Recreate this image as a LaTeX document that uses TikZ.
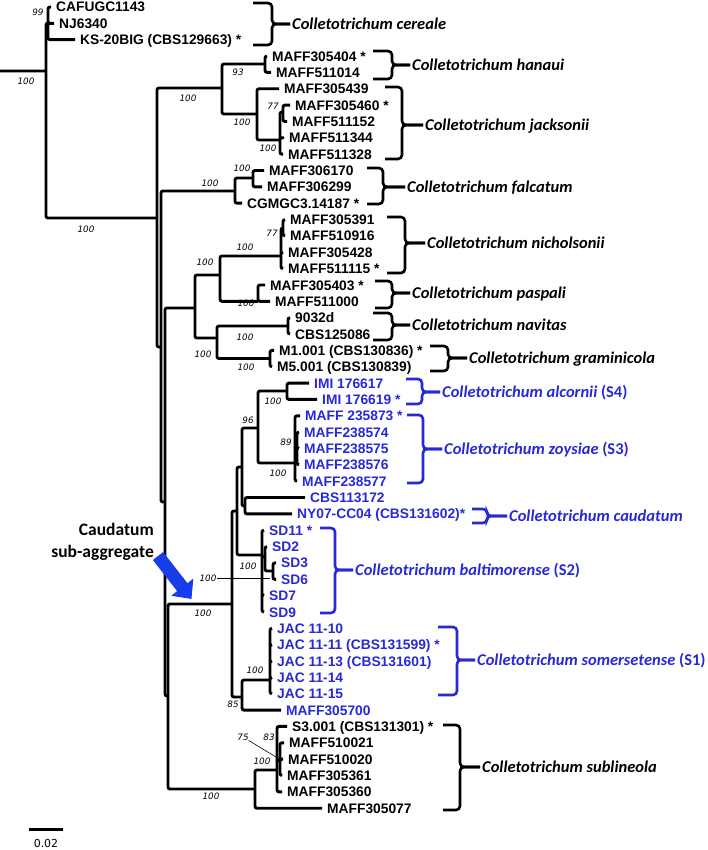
\documentclass[tikz,border=0pt]{standalone}
\usepackage{fontspec}
\usepackage{xcolor}
\usetikzlibrary{arrows.meta}
\newfontfamily\leaffont{Liberation Sans}
\newfontfamily\spfont{Carlito}
\newfontfamily\bsfont{DejaVu Sans}
\definecolor{cladeblue}{RGB}{40,40,215}
\definecolor{arrowblue}{RGB}{25,60,235}
% species brace: colour, stub x, spine x, top y, bottom y, middle y, label node
\newcommand{\spbrace}[7]{%
  \draw[#1,brace line] (#2,#4) -- (#3,#4) -- (#3,#6) -- (#7.west);
  \draw[#1,brace line] (#2,#5) -- (#3,#5) -- (#3,#6) -- (#7.west);}

\begin{document}
\begin{tikzpicture}[x=1pt,y=-1pt,
  branch/.style={line width=2.9pt,rounded corners=2pt},
  leaf/.style={anchor=west,inner xsep=5pt,inner ysep=0pt,text height=10pt,text depth=0pt,font=\leaffont\bfseries\fontsize{13.8}{15}\selectfont},
  bleaf/.style={leaf,text=cladeblue},
  species/.style={anchor=west,inner xsep=2pt,inner ysep=0pt,text height=10.5pt,text depth=0pt,font=\spfont\bfseries\itshape\fontsize{16.5}{18}\selectfont},
  boot/.style={inner sep=0pt,text height=6.5pt,text depth=0pt,font=\bsfont\itshape\fontsize{8.8}{10}\selectfont},
  brace line/.style={line width=2.6pt,rounded corners=4pt}]
\useasboundingbox (0,0) rectangle (708,850);

% internal nodes
\coordinate (base) at (0,71);
\coordinate (nR) at (46,71);
\coordinate (nCer) at (48,23);
\coordinate (nN1) at (157,218);
\coordinate (nHJ) at (222,88);
\coordinate (nHan) at (265,64);
\coordinate (nJac) at (257,114);
\coordinate (nJacB) at (280,140);
\coordinate (n77a) at (283,112);
\coordinate (nN2) at (161,347);
\coordinate (nFal) at (235,191);
\coordinate (nFalA) at (253,178);
\coordinate (nN3) at (165,502);
\coordinate (nNic0) at (195,308);
\coordinate (nNP) at (220,275);
\coordinate (nNic) at (281,256);
\coordinate (n77b) at (283,228);
\coordinate (nPas) at (258,301.3);
\coordinate (nNG) at (217,338);
\coordinate (nNav) at (288,326);
\coordinate (nGra) at (270,358.5);
\coordinate (nN4) at (168,696);
\coordinate (nCau) at (232,604);
\coordinate (nA) at (237,511);
\coordinate (nA1) at (242,467);
\coordinate (nAZ) at (258,428);
\coordinate (nAlc) at (287,391);
\coordinate (nZoy) at (295,463);
\coordinate (n89) at (297,448);
\coordinate (nCN) at (245,506);
\coordinate (nSD) at (262,555);
\coordinate (nSDb) at (265,557);
\coordinate (nSD36) at (273,571);
\coordinate (nB) at (242,697);
\coordinate (nJAC) at (270,680);
\coordinate (nSub) at (255,789);
\coordinate (nSubA) at (277,770);
\coordinate (nSubB) at (280,760);

% leaves
\node[leaf] (l0) at (51,7.0) {CAFUGC1143};
\node[leaf] (l1) at (54,23.4) {NJ6340};
\node[leaf] (l2) at (75,39.7) {KS-20BIG (CBS129663) *};
\node[leaf] (l3) at (267,56.1) {MAFF305404 *};
\node[leaf] (l4) at (271,72.4) {MAFF511014};
\node[leaf] (l5) at (279,88.8) {MAFF305439};
\node[leaf] (l6) at (290,105.1) {MAFF305460 *};
\node[leaf] (l7) at (287,121.5) {MAFF511152};
\node[leaf] (l8) at (284,137.8) {MAFF511344};
\node[leaf] (l9) at (283,154.2) {MAFF511328};
\node[leaf] (l10) at (264,170.5) {MAFF306170};
\node[leaf] (l11) at (262,186.9) {MAFF306299};
\node[leaf] (l12) at (242,203.2) {CGMGC3.14187 *};
\node[leaf] (l13) at (285,219.6) {MAFF305391};
\node[leaf] (l14) at (285,235.9) {MAFF510916};
\node[leaf] (l15) at (283,252.3) {MAFF305428};
\node[leaf] (l16) at (283,268.6) {MAFF511115 *};
\node[leaf] (l17) at (265,285.0) {MAFF305403 *};
\node[leaf] (l18) at (270,301.3) {MAFF511000};
\node[leaf] (l19) at (290,317.7) {9032d};
\node[leaf] (l20) at (290,334.0) {CBS125086};
\node[leaf] (l21) at (274,350.4) {M1.001 (CBS130836) *};
\node[leaf] (l22) at (272,366.7) {M5.001 (CBS130839)};
\node[bleaf] (l23) at (309,383.1) {IMI 176617};
\node[bleaf] (l24) at (317,399.4) {IMI 176619 *};
\node[bleaf] (l25) at (300,415.8) {MAFF 235873 *};
\node[bleaf] (l26) at (299,432.1) {MAFF238574};
\node[bleaf] (l27) at (299,448.5) {MAFF238575};
\node[bleaf] (l28) at (299,464.8) {MAFF238576};
\node[bleaf] (l29) at (297,481.2) {MAFF238577};
\node[bleaf] (l30) at (305,497.5) {CBS113172};
\node[bleaf] (l31) at (292,513.9) {NY07-CC04 (CBS131602)*};
\node[bleaf] (l32) at (264,530.2) {SD11 *};
\node[bleaf] (l33) at (267,546.6) {SD2};
\node[bleaf] (l34) at (276,562.9) {SD3};
\node[bleaf] (l35) at (276,579.3) {SD6};
\node[bleaf] (l36) at (264,595.6) {SD7};
\node[bleaf] (l37) at (264,612.0) {SD9};
\node[bleaf] (l38) at (272,628.3) {JAC 11-10};
\node[bleaf] (l39) at (272,644.7) {JAC 11-11 (CBS131599) *};
\node[bleaf] (l40) at (272,661.0) {JAC 11-13 (CBS131601)};
\node[bleaf] (l41) at (272,677.4) {JAC 11-14};
\node[bleaf] (l42) at (272,693.7) {JAC 11-15};
\node[bleaf] (l43) at (281,710.1) {MAFF305700};
\node[leaf] (l44) at (287,726.4) {S3.001 (CBS131301) *};
\node[leaf] (l45) at (284,742.8) {MAFF510021};
\node[leaf] (l46) at (283,759.1) {MAFF510020};
\node[leaf] (l47) at (282,775.5) {MAFF305361};
\node[leaf] (l48) at (282,791.8) {MAFF305360};
\node[leaf] (l49) at (322,808.2) {MAFF305077};

% branches
\draw[branch] (base) -- (nR) (nR) |- (nCer) (nR) |- (nN1);
\draw[branch] (nCer) |- (l0.west) (nCer) |- (l1.west) (nCer) |- (l2.west);
\draw[branch] (nN1) |- (nHJ) (nN1) |- (nN2);
\draw[branch] (nHJ) |- (nHan) (nHJ) |- (nJac);
\draw[branch] (nHan) |- (l3.west) (nHan) |- (l4.west);
\draw[branch] (nJac) |- (l5.west) (nJac) |- (nJacB);
\draw[branch] (nJacB) |- (n77a) (nJacB) |- (l8.west) (nJacB) |- (l9.west);
\draw[branch] (n77a) |- (l6.west) (n77a) |- (l7.west);
\draw[branch] (nN2) |- (nFal) (nN2) |- (nN3);
\draw[branch] (nFal) |- (nFalA) (nFal) |- (l12.west);
\draw[branch] (nFalA) |- (l10.west) (nFalA) |- (l11.west);
\draw[branch] (nN3) |- (nNic0) (nN3) |- (nN4);
\draw[branch] (nNic0) |- (nNP) (nNic0) |- (nNG);
\draw[branch] (nNP) |- (nNic) (nNP) |- (nPas);
\draw[branch] (nNic) |- (n77b) (nNic) |- (l15.west) (nNic) |- (l16.west);
\draw[branch] (n77b) |- (l13.west) (n77b) |- (l14.west);
\draw[branch] (nPas) |- (l17.west) (nPas) |- (l18.west);
\draw[branch] (nNG) |- (nNav) (nNG) |- (nGra);
\draw[branch] (nNav) |- (l19.west) (nNav) |- (l20.west);
\draw[branch] (nGra) |- (l21.west) (nGra) |- (l22.west);
\draw[branch] (nN4) |- (nCau) (nN4) |- (nSub);
\draw[branch] (nCau) |- (nA) (nCau) |- (nB);
\draw[branch] (nA) |- (nA1) (nA) |- (nSD);
\draw[branch] (nA1) |- (nAZ) (nA1) |- (nCN);
\draw[branch] (nAZ) |- (nAlc) (nAZ) |- (nZoy);
\draw[branch] (nAlc) |- (l23.west) (nAlc) |- (l24.west);
\draw[branch] (nZoy) |- (l25.west) (nZoy) |- (n89) (nZoy) |- (l29.west);
\draw[branch] (n89) |- (l26.west) (n89) |- (l27.west) (n89) |- (l28.west);
\draw[branch] (nCN) |- (l30.west) (nCN) |- (l31.west);
\draw[branch] (nSD) |- (l32.west) (nSD) |- (nSDb) (nSD) |- (l36.west) (nSD) |- (l37.west);
\draw[branch] (nSDb) |- (l33.west) (nSDb) |- (nSD36);
\draw[branch] (nSD36) |- (l34.west) (nSD36) |- (l35.west);
\draw[branch] (nB) |- (nJAC) (nB) |- (l43.west);
\draw[branch] (nJAC) |- (l38.west) (nJAC) |- (l39.west) (nJAC) |- (l40.west) (nJAC) |- (l41.west) (nJAC) |- (l42.west);
\draw[branch] (nSub) |- (nSubA) (nSub) |- (l49.west);
\draw[branch] (nSubA) |- (l44.west) (nSubA) |- (nSubB) (nSubA) |- (l48.west);
\draw[branch] (nSubB) |- (l45.west) (nSubB) |- (l46.west) (nSubB) |- (l47.west);

% bootstrap values
\node[boot] (b1) at (38,12) {99};
\node[boot] (b2) at (26,81) {100};
\node[boot] (b3) at (86,229) {100};
\node[boot] (b4) at (238,72) {93};
\node[boot] (b5) at (188,98) {100};
\node[boot] (b6) at (242,122) {100};
\node[boot] (b7) at (273,106) {77};
\node[boot] (b8) at (268,148) {100};
\node[boot] (b9) at (242,168) {100};
\node[boot] (b10) at (210,183) {100};
\node[boot] (b11) at (272,233) {77};
\node[boot] (b12) at (245,247) {100};
\node[boot] (b13) at (205,262) {100};
\node[boot] (b14) at (246,303) {100};
\node[boot] (b15) at (245,337) {100};
\node[boot] (b16) at (203,354) {100};
\node[boot] (b17) at (246,367) {100};
\node[boot] (b18) at (273,401) {100};
\node[boot] (b19) at (248,420) {96};
\node[boot] (b20) at (286,442) {89};
\node[boot] (b21) at (278,473) {100};
\node[boot] (b22) at (248,566) {100};
\node[boot] (b23) at (208,578) {100};
\node[boot] (b24) at (203,613) {100};
\node[boot] (b25) at (255,670) {100};
\node[boot] (b26) at (233,704) {85};
\node[boot] (b27) at (243,737) {75};
\node[boot] (b28) at (269,737) {83};
\node[boot] (b29) at (262,761) {100};
\node[boot] (b30) at (211,796) {100};
\coordinate (ptr1) at (270,578);
\coordinate (ptr2) at (276,757);
\draw[line width=0.6pt] (b23.east) -- (ptr1);
\draw[line width=0.6pt] (b27) -- (ptr2);

% species names and braces
\node[species] (sCer) at (290,24) {Colletotrichum cereale};
\node[species] (sHan) at (410,65) {Colletotrichum hanaui};
\node[species] (sJac) at (423,125) {Colletotrichum jacksonii};
\node[species] (sFal) at (405,187) {Colletotrichum falcatum};
\node[species] (sNic) at (425,243) {Colletotrichum nicholsonii};
\node[species] (sPas) at (410,293) {Colletotrichum paspali};
\node[species] (sNav) at (410,325) {Colletotrichum navitas};
\node[species] (sGra) at (467,358) {Colletotrichum graminicola};
\node[species,text=cladeblue] (sAlc) at (440,392) {Colletotrichum alcornii \upshape(S4)};
\node[species,text=cladeblue] (sZoy) at (442,449) {Colletotrichum zoysiae \upshape(S3)};
\node[species,text=cladeblue] (sCau) at (507,516) {Colletotrichum caudatum};
\node[species,text=cladeblue] (sBal) at (353,570) {Colletotrichum baltimorense \upshape(S2)};
\node[species,text=cladeblue] (sSom) at (475,660) {Colletotrichum somersetense \upshape(S1)};
\node[species] (sSub) at (480,767) {Colletotrichum sublineola};
\spbrace{black}{253}{272}{3}{45}{24}{sCer}
\spbrace{black}{373}{392}{51}{79}{65}{sHan}
\spbrace{black}{385}{402}{87}{159}{125}{sJac}
\spbrace{black}{367}{383}{168}{204}{187}{sFal}
\spbrace{black}{387}{405}{217}{273}{243}{sNic}
\spbrace{black}{375}{392}{281}{308}{293}{sPas}
\spbrace{black}{373}{392}{313}{340}{325}{sNav}
\spbrace{black}{430}{448}{346}{371}{358}{sGra}
\spbrace{cladeblue}{406}{422}{379}{404}{392}{sAlc}
\spbrace{cladeblue}{407}{423}{415}{483}{449}{sZoy}
\spbrace{cladeblue}{472}{487}{509}{523}{516}{sCau}
\spbrace{cladeblue}{320}{335}{528}{613}{570}{sBal}
\spbrace{cladeblue}{438}{457}{627}{695}{660}{sSom}
\spbrace{black}{443}{460}{725}{810}{767}{sSub}

% caudatum sub-aggregate pointer
\node[anchor=east,align=right,inner sep=0pt,font=\spfont\bfseries\fontsize{17.5}{22}\selectfont] (caud) at (154,542) {Caudatum\\sub-aggregate};
\coordinate (arrS) at (158,556);
\coordinate (arrT) at (191.5,599);
\draw[arrowblue,line width=13pt,-{Triangle[length=15pt,width=27pt]}] (arrS) -- (arrT);

% scale bar
\coordinate (sb1) at (29,829);
\coordinate (sb2) at (63,829);
\draw[line width=3pt] (sb1) -- (sb2);
\node[inner sep=0pt,text height=8pt,text depth=0pt,font=\bsfont\fontsize{11}{13}\selectfont] (sblab) at (46,843) {0.02};
\end{tikzpicture}
\end{document}
